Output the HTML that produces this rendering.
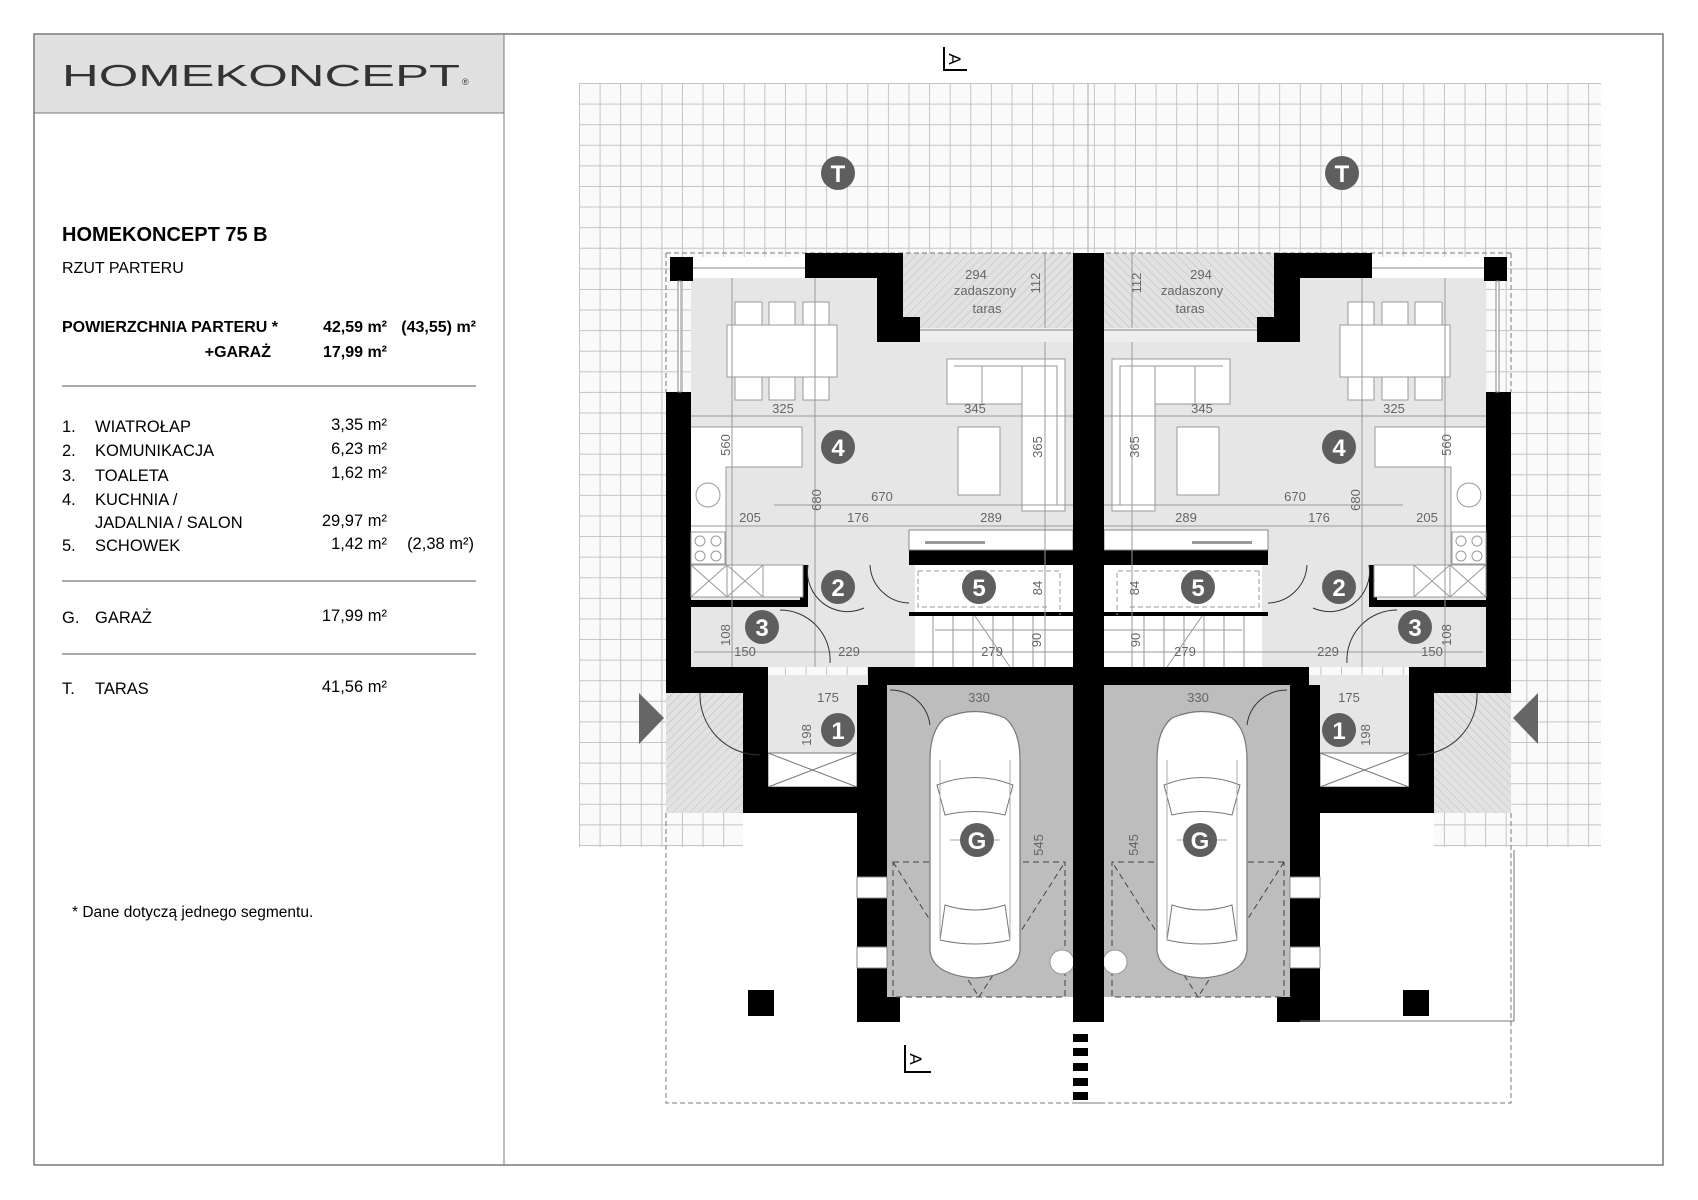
<!DOCTYPE html>
<html><head><meta charset="utf-8"><style>
html,body{margin:0;padding:0;background:#fff}
#g{position:absolute;left:579px;top:83px;width:1022px;height:764px;background-color:#fafafa;
background-image:linear-gradient(to right,#c4c4c4 1px,transparent 1px),linear-gradient(to bottom,#c4c4c4 1px,transparent 1px);
background-size:20.6px 20.6px;}
svg{display:block;position:absolute;left:0;top:0}
text{font-family:"Liberation Sans",sans-serif}
.d{font-size:13px;fill:#666;text-anchor:middle}
.c{font-size:24px;font-weight:bold;fill:#fff;text-anchor:middle}
.l{font-size:16.5px;fill:#000}
</style></head><body>
<div id="g"></div>
<svg width="1698" height="1200" viewBox="0 0 1698 1200" xmlns="http://www.w3.org/2000/svg">
<defs>
<pattern id="hatch" width="6" height="6" patternUnits="userSpaceOnUse" patternTransform="rotate(45)">
<rect width="6" height="6" fill="#e2e2e2"/><path d="M0 0V6" stroke="#bcbcbc" stroke-width="1"/>
</pattern>
<g id="half">
<rect x="691" y="278" width="186" height="389" fill="#e6e6e6"/>
<rect x="691" y="342" width="382" height="325" fill="#e6e6e6"/>
<rect x="693" y="257" width="112" height="21" fill="#fff"/>
<line x1="693" y1="268" x2="805" y2="268" stroke="#888"/>
<rect x="903" y="253" width="170" height="75" fill="url(#hatch)"/>
<rect x="877" y="328" width="196" height="14" fill="#eee"/>
<line x1="903" y1="330" x2="1073" y2="330" stroke="#888"/>
<rect x="887" y="685" width="186" height="312" fill="#bdbdbd"/>
<rect x="768" y="675" width="100" height="78" fill="#e6e6e6"/>
<rect x="768" y="753" width="89" height="34" fill="#fff" stroke="#777"/>
<path d="M768 753L857 787M857 753L768 787" stroke="#777"/>
<rect x="666" y="693" width="77" height="120" fill="url(#hatch)"/>
<path d="M666 813V1103H1100" stroke="#777" stroke-dasharray="5 3" fill="none"/>
<path d="M666 253H1073M666 253V392" stroke="#777" stroke-dasharray="5 3" fill="none"/>
<g fill="#000">
<rect x="670" y="257" width="23" height="24"/>
<polygon points="805,253 903,253 903,317 920,317 920,342 877,342 877,278 805,278"/>
<rect x="666" y="392" width="25" height="301"/>
<rect x="666" y="667" width="102" height="26"/>
<rect x="743" y="693" width="25" height="120"/>
<rect x="768" y="787" width="89" height="26"/>
<rect x="857" y="685" width="30" height="337"/>
<rect x="868" y="667" width="205" height="18"/>
<rect x="857" y="997" width="43" height="25"/>
<rect x="909" y="550" width="164" height="15"/>
<rect x="909" y="612" width="164" height="4"/>
<rect x="691" y="600" width="117" height="7"/>
<rect x="800" y="565" width="8" height="40"/>
<rect x="748" y="990" width="26" height="26"/>
</g>
<rect x="678" y="281" width="3" height="111" fill="#fff" stroke="#888"/>
<rect x="857" y="877" width="30" height="21" fill="#fff" stroke="#888"/>
<rect x="857" y="947" width="30" height="21" fill="#fff" stroke="#888"/>
<polygon points="639,693 664,718 639,744" fill="#666"/>
<rect x="909" y="530" width="164" height="20" fill="#fff" stroke="#888"/>
<rect x="925" y="541" width="60" height="3" fill="#999"/>
<rect x="915" y="565" width="158" height="47" fill="#fff"/>
<rect x="915" y="616" width="158" height="51" fill="#fff"/>
<g stroke="#999" fill="none">
<path d="M933 616V667M953 616V667M973 616V667M993 616V667M1013 616V667M1033 616V667M935 630H1073M975 616L1010 667"/>
<path d="M918 571H1060V615M918 571V607H1050" stroke-dasharray="5 3"/>
<rect x="727" y="325" width="110" height="52" fill="#fff"/>
<rect x="735" y="302" width="27" height="23" fill="#fff"/><rect x="769" y="302" width="26" height="23" fill="#fff"/><rect x="803" y="302" width="26" height="23" fill="#fff"/>
<rect x="735" y="377" width="27" height="23" fill="#fff"/><rect x="769" y="377" width="26" height="23" fill="#fff"/><rect x="803" y="377" width="26" height="23" fill="#fff"/>
<path d="M947 359H1065V511H1022V404H947Z" fill="#fff"/>
<path d="M982 366V404M1022 366V404M1022 435V474M954 366H1057V505" />
<rect x="958" y="427" width="42" height="68" fill="#fff"/>
<path d="M691 427H802V467H726V567H691" fill="#fff"/>
<circle cx="708" cy="495" r="12"/>
<rect x="691" y="532" width="34" height="32" fill="#fff"/>
<circle cx="700" cy="541" r="5"/><circle cx="716" cy="541" r="5"/><circle cx="700" cy="556" r="5"/><circle cx="716" cy="556" r="5"/>
<rect x="691" y="565" width="112" height="32" fill="#fff"/>
<path d="M691 565L727 597M727 565L691 597M727 565L763 597M763 565L727 597M727 565V597M763 565V597"/>
<path d="M691 416H1073M691 526H1073M774 505H1073M732 278V667M815 278V667M1045 342V667M1045 253V328M694 652H1073"/>
<path d="M808 565A40 40 0 0 0 864 608" stroke="#333"/>
<path d="M780 610A50 50 0 0 1 830 663" stroke="#333"/>
<path d="M870 565A40 40 0 0 0 909 603" stroke="#333"/>
<path d="M700 693A60 60 0 0 0 760 755" stroke="#333"/>
<path d="M890 690A40 40 0 0 1 930 725" stroke="#333"/>
<rect x="893" y="862" width="172" height="135" stroke="#444" stroke-dasharray="6 4"/>
<path d="M893 862L979 997L1065 862" stroke="#444" stroke-dasharray="6 4"/>
<path d="M945 718Q975 705 1005 718Q1020 730 1020 760V950Q1018 975 975 978Q932 975 930 950V760Q930 730 945 718Z" fill="#fff" stroke="#777" stroke-width="1.2"/>
<path d="M937 785Q975 770 1013 785L1005 815Q975 808 945 815ZM945 905Q975 915 1005 905L1010 940Q975 948 940 940Z" stroke="#777"/>
<path d="M940 760V940M1010 760V940M950 840H1000" stroke="#aaa"/>
<circle cx="1062" cy="962" r="12" fill="#fff"/>
</g>
</g>
</defs>

<rect x="34" y="34" width="1629" height="1131" fill="none" stroke="#555" stroke-width="1.2"/>
<rect x="34.6" y="34.6" width="469.4" height="78.4" fill="#e0e0e0"/>
<line x1="34" y1="113" x2="504" y2="113" stroke="#777"/>
<line x1="504" y1="34" x2="504" y2="1165" stroke="#777"/>
<text x="62" y="86" font-size="31" font-weight="300" textLength="398" lengthAdjust="spacingAndGlyphs" fill="#333">HOMEKONCEPT</text>
<text x="462" y="85" font-size="9" fill="#333">®</text>

<text x="62" y="241" font-size="20" font-weight="bold">HOMEKONCEPT 75 B</text>
<text x="62" y="273" font-size="16">RZUT PARTERU</text>
<g class="l">
<text x="62" y="332" font-weight="bold" font-size="16">POWIERZCHNIA PARTERU  *</text>
<text x="387" y="332" font-weight="bold" font-size="16" text-anchor="end">42,59 m²</text>
<text x="476" y="332" font-weight="bold" font-size="16" text-anchor="end">(43,55) m²</text>
<text x="271" y="357" font-weight="bold" font-size="16" text-anchor="end">+GARAŻ</text>
<text x="387" y="357" font-weight="bold" font-size="16" text-anchor="end">17,99 m²</text>
<text x="62" y="432">1.</text><text x="95" y="432">WIATROŁAP</text><text x="387" y="430" text-anchor="end">3,35 m²</text>
<text x="62" y="456">2.</text><text x="95" y="456">KOMUNIKACJA</text><text x="387" y="454" text-anchor="end">6,23 m²</text>
<text x="62" y="481">3.</text><text x="95" y="481">TOALETA</text><text x="387" y="478" text-anchor="end">1,62 m²</text>
<text x="62" y="505">4.</text><text x="95" y="505">KUCHNIA /</text>
<text x="95" y="528">JADALNIA / SALON</text><text x="387" y="526" text-anchor="end">29,97 m²</text>
<text x="62" y="551">5.</text><text x="95" y="551">SCHOWEK</text><text x="387" y="549" text-anchor="end">1,42 m²</text><text x="474" y="549" text-anchor="end">(2,38 m²)</text>
<text x="62" y="623">G.</text><text x="95" y="623">GARAŻ</text><text x="387" y="621" text-anchor="end">17,99 m²</text>
<text x="62" y="694">T.</text><text x="95" y="694">TARAS</text><text x="387" y="692" text-anchor="end">41,56 m²</text>
<text x="72" y="917" font-size="15.5">*   Dane dotyczą jednego segmentu.</text>
</g>
<line x1="62" y1="386" x2="476" y2="386" stroke="#555"/>
<line x1="62" y1="581" x2="476" y2="581" stroke="#555"/>
<line x1="62" y1="654" x2="476" y2="654" stroke="#555"/>

<line x1="1088" y1="83" x2="1088" y2="253" stroke="#aaa"/>
<rect x="743" y="813" width="691" height="40" fill="#fff"/>
<use href="#half"/>
<use href="#half" transform="matrix(-1,0,0,1,2177,0)"/>
<rect x="1073" y="253" width="31" height="769" fill="#000"/>
<path d="M1300 1021H1514V850" stroke="#777" fill="none"/>
<g fill="#000"><rect x="1073" y="1034" width="15" height="8"/><rect x="1073" y="1048" width="15" height="8"/><rect x="1073" y="1063" width="15" height="8"/><rect x="1073" y="1078" width="15" height="8"/><rect x="1073" y="1092" width="15" height="8"/></g>
<path d="M944 47V70H967" stroke="#000" stroke-width="2" fill="none"/>
<text x="0" y="0" font-size="17" transform="translate(949,59) rotate(90)" text-anchor="middle">A</text>
<path d="M905 1045V1072H931" stroke="#000" stroke-width="2" fill="none"/>
<text x="0" y="0" font-size="17" transform="translate(910,1059) rotate(90)" text-anchor="middle">A</text>

<g fill="#5e5e5e">
<circle cx="838" cy="173" r="17"/><circle cx="1342" cy="173" r="17"/>
<circle cx="838" cy="447" r="17"/><circle cx="1339" cy="447" r="17"/>
<circle cx="838" cy="587" r="17"/><circle cx="1339" cy="587" r="17"/>
<circle cx="979" cy="587" r="17"/><circle cx="1198" cy="587" r="17"/>
<circle cx="762" cy="627" r="17"/><circle cx="1415" cy="627" r="17"/>
<circle cx="838" cy="730" r="17"/><circle cx="1339" cy="730" r="17"/>
<circle cx="977" cy="840" r="17"/><circle cx="1200" cy="840" r="17"/>
</g>
<g class="c">
<text x="838" y="182">T</text><text x="1342" y="182">T</text>
<text x="838" y="456">4</text><text x="1339" y="456">4</text>
<text x="838" y="596">2</text><text x="1339" y="596">2</text>
<text x="979" y="596">5</text><text x="1198" y="596">5</text>
<text x="762" y="636">3</text><text x="1415" y="636">3</text>
<text x="838" y="739">1</text><text x="1339" y="739">1</text>
<text x="977" y="849">G</text><text x="1200" y="849">G</text>
</g>

<g class="d">
<text x="783" y="413">325</text><text x="1394" y="413">325</text>
<text x="975" y="413">345</text><text x="1202" y="413">345</text>
<text x="882" y="501">670</text><text x="1295" y="501">670</text>
<text x="750" y="522">205</text><text x="1427" y="522">205</text>
<text x="858" y="522">176</text><text x="1319" y="522">176</text>
<text x="991" y="522">289</text><text x="1186" y="522">289</text>
<text x="976" y="279">294</text><text x="1201" y="279">294</text>
<text x="985" y="295">zadaszony</text><text x="1192" y="295">zadaszony</text>
<text x="987" y="313">taras</text><text x="1190" y="313">taras</text>
<text x="992" y="656">279</text><text x="1185" y="656">279</text>
<text x="849" y="656">229</text><text x="1328" y="656">229</text>
<text x="745" y="656">150</text><text x="1432" y="656">150</text>
<text x="828" y="702">175</text><text x="1349" y="702">175</text>
<text x="979" y="702">330</text><text x="1198" y="702">330</text>
<g transform="translate(730,445) rotate(-90)"><text>560</text></g><g transform="translate(1451,445) rotate(-90)"><text>560</text></g>
<g transform="translate(821,500) rotate(-90)"><text>680</text></g><g transform="translate(1360,500) rotate(-90)"><text>680</text></g>
<g transform="translate(1042,447) rotate(-90)"><text>365</text></g><g transform="translate(1139,447) rotate(-90)"><text>365</text></g>
<g transform="translate(1040,283) rotate(-90)"><text>112</text></g><g transform="translate(1141,283) rotate(-90)"><text>112</text></g>
<g transform="translate(1042,588) rotate(-90)"><text>84</text></g><g transform="translate(1139,588) rotate(-90)"><text>84</text></g>
<g transform="translate(1041,640) rotate(-90)"><text>90</text></g><g transform="translate(1140,640) rotate(-90)"><text>90</text></g>
<g transform="translate(730,635) rotate(-90)"><text>108</text></g><g transform="translate(1451,635) rotate(-90)"><text>108</text></g>
<g transform="translate(811,735) rotate(-90)"><text>198</text></g><g transform="translate(1370,735) rotate(-90)"><text>198</text></g>
<g transform="translate(1043,845) rotate(-90)"><text>545</text></g><g transform="translate(1138,845) rotate(-90)"><text>545</text></g>
</g>
</svg>
</body></html>
